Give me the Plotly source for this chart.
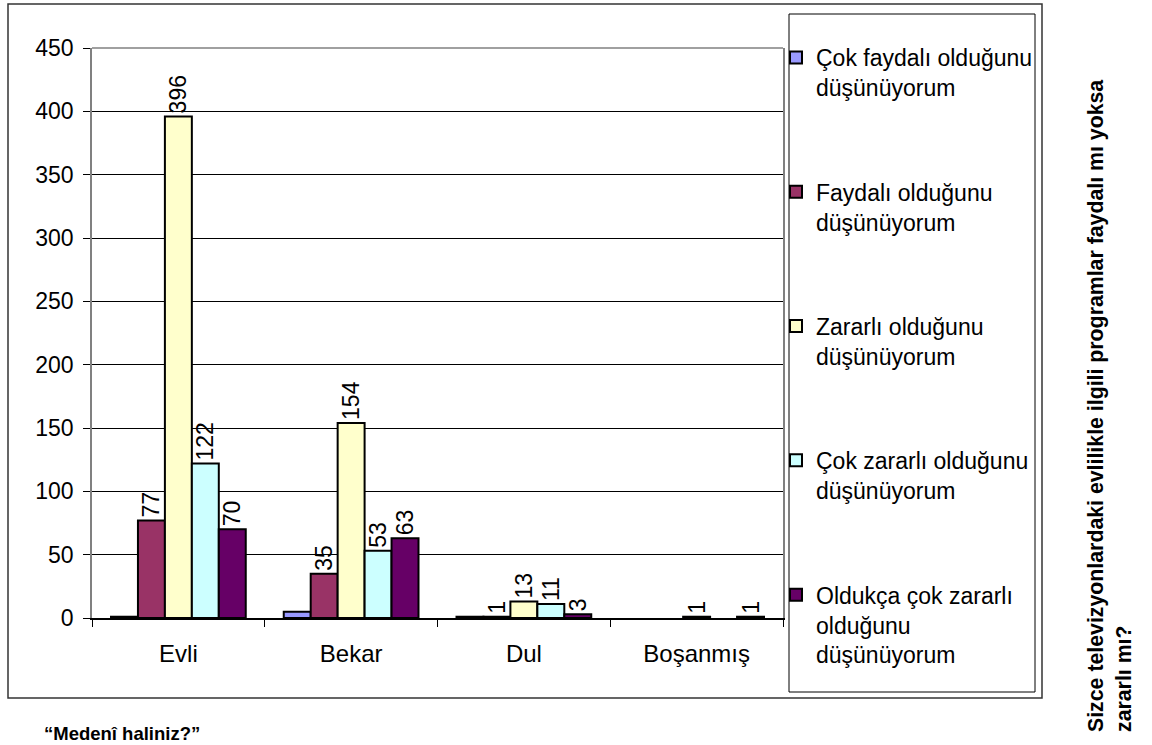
import plotly.graph_objects as go

# Marital status categories and answer series
categories = ["Evli", "Bekar", "Dul", "Boşanmış"]

series_names = [
    "Çok faydalı olduğunu<br>düşünüyorum",
    "Faydalı olduğunu<br>düşünüyorum",
    "Zararlı olduğunu<br>düşünüyorum",
    "Çok zararlı olduğunu<br>düşünüyorum",
    "Oldukça çok zararlı<br>olduğunu<br>düşünüyorum",
]
cok_faydali = [1, 5, 1, None]
faydali = [77, 35, 1, None]
zararli = [396, 154, 13, 1]
cok_zararli = [122, 53, 11, None]
oldukca_cok_zararli = [70, 63, 3, 1]

# which values carry a data label
cok_faydali_labeled = [False, False, False, False]

series_values = [cok_faydali, faydali, zararli, cok_zararli, oldukca_cok_zararli]
series_colors = ["#9999FF", "#993366", "#FFFFCC", "#CCFFFF", "#660066"]

FONT = "Arial, Liberation Sans, sans-serif"

fig = go.Figure()
for i, (name, vals, col) in enumerate(zip(series_names, series_values, series_colors)):
    if i == 0:
        texts = [str(v) if (v is not None and lab) else "" for v, lab in zip(vals, cok_faydali_labeled)]
    else:
        texts = [str(v) if v is not None else "" for v in vals]
    fig.add_trace(go.Bar(
        x=categories, y=vals, name=name, legendgroup=f"g{i}",
        marker=dict(color=col, line=dict(color="black", width=2)),
        text=texts, textposition="outside", textangle=-90,
        textfont=dict(family=FONT, size=23, color="black"),
        constraintext="none", cliponaxis=False,
    ))

# figure geometry in pixels
W, H = 1152, 745
L, R, T, B = 92, 783, 48, 618
pw, ph = R - L, B - T

def px(x):
    return (x - L) / pw

def py(y):
    return (B - y) / ph

shapes = [
    # outer chart frame
    dict(type="rect", xref="paper", yref="paper", x0=px(8), x1=px(1042), y0=py(698), y1=py(4),
         line=dict(color="#333333", width=1.5), layer="below"),
    # legend frame
    dict(type="rect", xref="paper", yref="paper", x0=px(789), x1=px(1035), y0=py(692), y1=py(14),
         line=dict(color="black", width=1), layer="below"),
    # top edge of plot area
    dict(type="line", xref="paper", yref="paper", x0=0, x1=1, y0=1, y1=1,
         line=dict(color="#808080", width=1.5)),
]

annotations = [
    dict(text="<b>Sizce televizyonlardaki evlilikle ilgili programlar faydalı mı yoksa<br>zararlı mı?</b>",
         xref="paper", yref="paper", x=px(1110), y=py(734), xanchor="center", yanchor="bottom",
         textangle=-90, align="left", showarrow=False,
         font=dict(family=FONT, size=21.3, color="black")),
    dict(text="<b>“Medenî haliniz?”</b>", xref="paper", yref="paper",
         x=px(42), y=py(733), xanchor="left", yanchor="middle", showarrow=False,
         font=dict(family=FONT, size=18.5, color="black")),
]

fig.update_layout(
    width=W, height=H,
    margin=dict(l=L, r=W - R, t=T, b=H - B, pad=0),
    paper_bgcolor="white", plot_bgcolor="white",
    barmode="group", bargap=0.22, bargroupgap=0,
    font=dict(family=FONT, size=23, color="black"),
    showlegend=True,
    legend=dict(
        x=px(776), y=py(36), xanchor="left", yanchor="top",
        bgcolor="rgba(0,0,0,0)", borderwidth=0,
        font=dict(family=FONT, size=23, color="black"),
        tracegroupgap=71.5, valign="top", itemwidth=30, traceorder="grouped",
        maxheight=720,
    ),
    shapes=shapes, annotations=annotations,
    uniformtext=dict(mode=False),
)
fig.update_xaxes(
    showline=True, linecolor="black", linewidth=1.5,
    ticks="outside", tickson="boundaries", ticklen=7, tickcolor="black",
    showgrid=False, ticklabelstandoff=13,
    tickfont=dict(family=FONT, size=24, color="black"),
)
fig.update_yaxes(
    range=[0, 450], dtick=50, tick0=0,
    showline=True, linecolor="#808080", linewidth=1.5, mirror=True,
    showgrid=True, gridcolor="black", gridwidth=1, zeroline=False,
    ticks="outside", ticklen=7, tickcolor="black", ticklabelstandoff=5,
    tickfont=dict(family=FONT, size=23, color="black"),
)

fig.write_html("out.html")
